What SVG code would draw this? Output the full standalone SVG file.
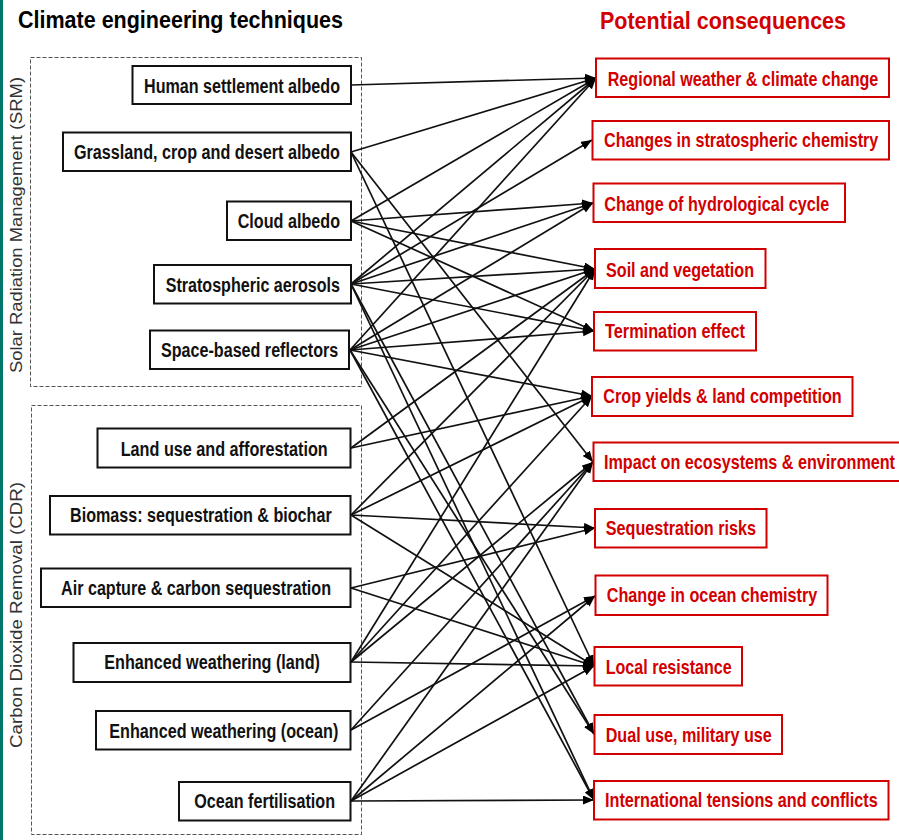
<svg xmlns="http://www.w3.org/2000/svg" width="899" height="840" viewBox="0 0 899 840">
  <defs>
    <marker id="arrow" markerUnits="userSpaceOnUse" markerWidth="12" markerHeight="10" refX="11" refY="4.5" orient="auto">
      <path d="M0,0 L11,4.5 L0,9 z" fill="#000"/>
    </marker>
    <style>
      text { font-family: "Liberation Sans", Arial, sans-serif; }
      .title { font-weight: bold; font-size: 19px; }
      .group { fill: none; stroke: #555; stroke-width: 1; stroke-dasharray: 4 2; }
      .glabel { font-size: 17px; fill: #333; }
      .tech rect { fill: #fff; stroke: #111; stroke-width: 2; }
      .tech text { font-weight: bold; font-size: 16px; fill: #111; }
      .cons rect { fill: #fff; stroke: #d20000; stroke-width: 2; }
      .cons text { font-weight: bold; font-size: 16.5px; fill: #d20000; }
      .links line { stroke: #111; stroke-width: 1.7; marker-end: url(#arrow); }
    </style>
  </defs>

  <rect width="899" height="840" fill="#fff"/>
  <rect x="0" y="0" width="3" height="840" fill="#00776a"/>

  <!-- headings (condensed bold: small size stretched vertically) -->
  <text class="title" transform="translate(18,28) scale(1,1.29)" textLength="325" lengthAdjust="spacingAndGlyphs" fill="#000">Climate engineering techniques</text>
  <text class="title" transform="translate(600,28.5) scale(1,1.29)" textLength="246" lengthAdjust="spacingAndGlyphs" fill="#d20000">Potential consequences</text>

  <!-- technique groups -->
  <g id="srm-group">
    <rect class="group" x="30.5" y="57.5" width="331" height="329"/>
    <text class="glabel" transform="translate(21.5,373) rotate(-90)" textLength="296" lengthAdjust="spacingAndGlyphs">Solar Radiation Management (SRM)</text>
  </g>
  <g id="cdr-group">
    <rect class="group" x="31.5" y="405.5" width="330" height="429"/>
    <text class="glabel" transform="translate(21.5,748) rotate(-90)" textLength="266" lengthAdjust="spacingAndGlyphs">Carbon Dioxide Removal (CDR)</text>
  </g>

  <!-- connectors -->
  <g id="connectors" class="links">
    <!-- Human settlement albedo -->
    <line x1="351" y1="85" x2="596" y2="78"/>
    <!-- Grassland, crop and desert albedo -->
    <line x1="351" y1="152" x2="596" y2="78"/>
    <line x1="351" y1="152" x2="593" y2="462"/>
    <line x1="351" y1="152" x2="594" y2="666"/>
    <!-- Cloud albedo -->
    <line x1="351" y1="221" x2="596" y2="78"/>
    <line x1="351" y1="221" x2="593" y2="203"/>
    <line x1="351" y1="221" x2="595" y2="269"/>
    <line x1="351" y1="221" x2="594" y2="331"/>
    <!-- Stratospheric aerosols -->
    <line x1="351" y1="284" x2="596" y2="78"/>
    <line x1="351" y1="284" x2="592" y2="140"/>
    <line x1="351" y1="284" x2="593" y2="203"/>
    <line x1="351" y1="284" x2="595" y2="269"/>
    <line x1="351" y1="284" x2="594" y2="331"/>
    <line x1="351" y1="284" x2="594" y2="734"/>
    <line x1="351" y1="284" x2="594" y2="800"/>
    <!-- Space-based reflectors -->
    <line x1="350" y1="350" x2="596" y2="78"/>
    <line x1="350" y1="350" x2="593" y2="203"/>
    <line x1="350" y1="350" x2="595" y2="269"/>
    <line x1="350" y1="350" x2="594" y2="331"/>
    <line x1="350" y1="350" x2="592" y2="396"/>
    <line x1="350" y1="350" x2="594" y2="734"/>
    <line x1="350" y1="350" x2="594" y2="800"/>
    <!-- Land use and afforestation -->
    <line x1="351" y1="448" x2="595" y2="269"/>
    <line x1="351" y1="448" x2="592" y2="396"/>
    <!-- Biomass -->
    <line x1="351" y1="515" x2="595" y2="269"/>
    <line x1="351" y1="515" x2="592" y2="396"/>
    <line x1="351" y1="515" x2="595" y2="528"/>
    <line x1="351" y1="515" x2="594" y2="666"/>
    <!-- Air capture -->
    <line x1="351" y1="588" x2="595" y2="528"/>
    <line x1="351" y1="588" x2="594" y2="666"/>
    <!-- Enhanced weathering (land) -->
    <line x1="351" y1="662" x2="595" y2="269"/>
    <line x1="351" y1="662" x2="592" y2="396"/>
    <line x1="351" y1="662" x2="593" y2="462"/>
    <line x1="351" y1="662" x2="594" y2="666"/>
    <!-- Enhanced weathering (ocean) -->
    <line x1="351" y1="730" x2="593" y2="462"/>
    <line x1="351" y1="730" x2="595" y2="596"/>
    <!-- Ocean fertilisation -->
    <line x1="351" y1="801" x2="593" y2="462"/>
    <line x1="351" y1="801" x2="595" y2="596"/>
    <line x1="351" y1="801" x2="594" y2="666"/>
    <line x1="351" y1="801" x2="594" y2="800"/>
  </g>

  <!-- techniques -->
  <g id="human-settlement-albedo" class="tech">
    <rect x="132.5" y="66" width="218.5" height="38"/>
    <text transform="translate(144,92.7) scale(1,1.25)" textLength="196" lengthAdjust="spacingAndGlyphs">Human settlement albedo</text>
  </g>
  <g id="grassland-albedo" class="tech">
    <rect x="63" y="132.5" width="288" height="38.5"/>
    <text transform="translate(74,159.3) scale(1,1.25)" textLength="266" lengthAdjust="spacingAndGlyphs">Grassland, crop and desert albedo</text>
  </g>
  <g id="cloud-albedo" class="tech">
    <rect x="227" y="201.5" width="124" height="38.5"/>
    <text transform="translate(237.7,228.3) scale(1,1.25)" textLength="102.3" lengthAdjust="spacingAndGlyphs">Cloud albedo</text>
  </g>
  <g id="stratospheric-aerosols" class="tech">
    <rect x="154" y="265" width="197" height="38.5"/>
    <text transform="translate(165.7,291.7) scale(1,1.25)" textLength="174.3" lengthAdjust="spacingAndGlyphs">Stratospheric aerosols</text>
  </g>
  <g id="space-based-reflectors" class="tech">
    <rect x="150" y="330.5" width="199" height="38.5"/>
    <text transform="translate(161,356.7) scale(1,1.25)" textLength="177.3" lengthAdjust="spacingAndGlyphs">Space-based reflectors</text>
  </g>
  <g id="land-use" class="tech">
    <rect x="97.5" y="428.5" width="253" height="39"/>
    <text transform="translate(120.7,455.5) scale(1,1.25)" textLength="207" lengthAdjust="spacingAndGlyphs">Land use and afforestation</text>
  </g>
  <g id="biomass" class="tech">
    <rect x="50" y="496" width="300.5" height="38.5"/>
    <text transform="translate(70,522.3) scale(1,1.25)" textLength="261.7" lengthAdjust="spacingAndGlyphs">Biomass: sequestration &amp; biochar</text>
  </g>
  <g id="air-capture" class="tech">
    <rect x="41" y="568.5" width="309.5" height="38.5"/>
    <text transform="translate(61,595) scale(1,1.25)" textLength="270" lengthAdjust="spacingAndGlyphs">Air capture &amp; carbon sequestration</text>
  </g>
  <g id="weathering-land" class="tech">
    <rect x="73.5" y="643" width="277" height="39"/>
    <text transform="translate(104.3,669.3) scale(1,1.25)" textLength="215.7" lengthAdjust="spacingAndGlyphs">Enhanced weathering (land)</text>
  </g>
  <g id="weathering-ocean" class="tech">
    <rect x="96" y="711" width="254.5" height="38.5"/>
    <text transform="translate(109.3,737.7) scale(1,1.25)" textLength="229" lengthAdjust="spacingAndGlyphs">Enhanced weathering (ocean)</text>
  </g>
  <g id="ocean-fertilisation" class="tech">
    <rect x="179" y="782" width="171.5" height="38.5"/>
    <text transform="translate(194.3,808.3) scale(1,1.25)" textLength="140.7" lengthAdjust="spacingAndGlyphs">Ocean fertilisation</text>
  </g>

  <!-- consequences -->
  <g id="regional-weather" class="cons">
    <rect x="596" y="58.5" width="293" height="38.5"/>
    <text transform="translate(607.7,86) scale(1,1.27)" textLength="270.6" lengthAdjust="spacingAndGlyphs">Regional weather &amp; climate change</text>
  </g>
  <g id="stratospheric-chemistry" class="cons">
    <rect x="592.5" y="121" width="296.5" height="38.5"/>
    <text transform="translate(604,147.3) scale(1,1.27)" textLength="274.3" lengthAdjust="spacingAndGlyphs">Changes in stratospheric chemistry</text>
  </g>
  <g id="hydrological-cycle" class="cons">
    <rect x="593.5" y="183.5" width="251.5" height="38.5"/>
    <text transform="translate(604.3,211) scale(1,1.27)" textLength="225" lengthAdjust="spacingAndGlyphs">Change of hydrological cycle</text>
  </g>
  <g id="soil-vegetation" class="cons">
    <rect x="595" y="249" width="170.5" height="39"/>
    <text transform="translate(606,276.7) scale(1,1.27)" textLength="148" lengthAdjust="spacingAndGlyphs">Soil and vegetation</text>
  </g>
  <g id="termination-effect" class="cons">
    <rect x="594" y="312" width="162" height="38.5"/>
    <text transform="translate(605,338.3) scale(1,1.27)" textLength="140" lengthAdjust="spacingAndGlyphs">Termination effect</text>
  </g>
  <g id="crop-yields" class="cons">
    <rect x="592" y="377" width="260.5" height="39"/>
    <text transform="translate(603.3,403.3) scale(1,1.27)" textLength="238.4" lengthAdjust="spacingAndGlyphs">Crop yields &amp; land competition</text>
  </g>
  <g id="ecosystems" class="cons">
    <rect x="593.5" y="442.5" width="310" height="38.5"/>
    <text transform="translate(604,469.3) scale(1,1.38)" style="font-size:15.2px" textLength="291" lengthAdjust="spacingAndGlyphs">Impact on ecosystems &amp; environment</text>
  </g>
  <g id="sequestration-risks" class="cons">
    <rect x="595" y="509" width="171.5" height="38.5"/>
    <text transform="translate(605.7,535) scale(1,1.27)" textLength="150.3" lengthAdjust="spacingAndGlyphs">Sequestration risks</text>
  </g>
  <g id="ocean-chemistry" class="cons">
    <rect x="595.5" y="575.5" width="232" height="39.5"/>
    <text transform="translate(606.7,602.3) scale(1,1.27)" textLength="210.6" lengthAdjust="spacingAndGlyphs">Change in ocean chemistry</text>
  </g>
  <g id="local-resistance" class="cons">
    <rect x="594.5" y="647" width="147.5" height="38.5"/>
    <text transform="translate(605.7,674) scale(1,1.27)" textLength="126" lengthAdjust="spacingAndGlyphs">Local resistance</text>
  </g>
  <g id="dual-use" class="cons">
    <rect x="594.5" y="715" width="187.5" height="39"/>
    <text transform="translate(605.7,741.7) scale(1,1.27)" textLength="166" lengthAdjust="spacingAndGlyphs">Dual use, military use</text>
  </g>
  <g id="international-tensions" class="cons">
    <rect x="594" y="781" width="294.5" height="38.5"/>
    <text transform="translate(605,807.3) scale(1,1.27)" textLength="272.7" lengthAdjust="spacingAndGlyphs">International tensions and conflicts</text>
  </g>
</svg>
